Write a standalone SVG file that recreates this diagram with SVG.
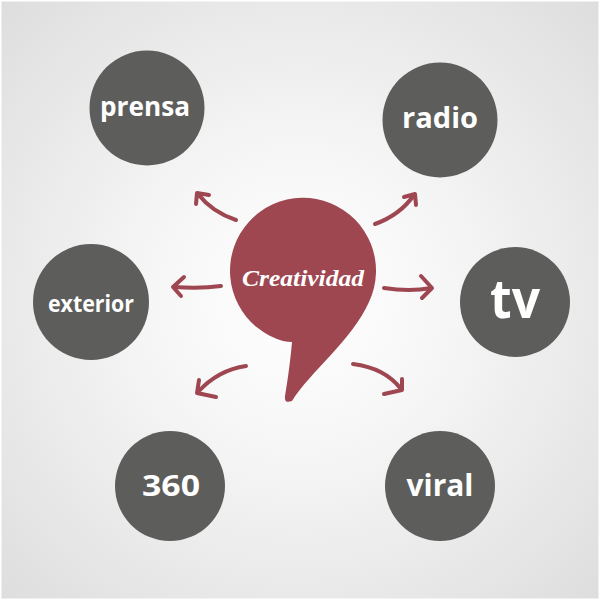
<svg xmlns="http://www.w3.org/2000/svg" width="600" height="600" viewBox="0 0 600 600">
<defs>
<radialGradient id="bg" cx="300" cy="300" r="430" gradientUnits="userSpaceOnUse">
<stop offset="0" stop-color="#ffffff"/>
<stop offset="0.35" stop-color="#f6f6f6"/>
<stop offset="1" stop-color="#dddddd"/>
</radialGradient>
<style>
.node circle{fill:#5d5d5c}
.node text{fill:#ffffff;font-family:"Open Sans",Roboto,sans-serif;font-weight:bold;text-anchor:middle}
.arr{fill:none;stroke:#9e4750;stroke-width:4;stroke-linecap:round;stroke-linejoin:round}
</style>
</defs>
<rect x="0" y="0" width="600" height="600" fill="#ffffff"/>
<rect x="1.5" y="1.5" width="597" height="597" fill="url(#bg)"/>
<g id="connectors">
<path class="arr" d="M236,220 Q212,212 198,194 M209,195 L197,193 L196,204"/>
<path class="arr" d="M375,224 Q400,215 414,195 M404,197 L415,194 L416,205"/>
<path class="arr" d="M221,286 Q200,289 174,287 M184,277 L173,287 L181,296"/>
<path class="arr" d="M384,288 Q410,292 431,288 M421,276 L432,288 L422,298"/>
<path class="arr" d="M246,366 Q218,370 198,392 M199,380 L197,393 L216,397"/>
<path class="arr" d="M353,364 Q385,368 401,389 M402,379 L402,390 L384,394"/>
</g>
<g id="creatividad">
<path d="M292,342 C290,365 287,384 285,396 Q284,404 292,401 C310,372 352,340 369,302 A73 73 0 1 0 283,341 Q288,342 292,342 Z" fill="#9e4750"/>
<text x="303" y="286" fill="#ffffff" font-family="'Liberation Serif',serif" font-style="italic" font-weight="bold" font-size="24" text-anchor="middle" textLength="122" lengthAdjust="spacingAndGlyphs">Creatividad</text>
</g>
<g id="prensa" class="node"><circle cx="147" cy="108" r="57.5"/><text x="145" y="116" font-size="27" textLength="90" lengthAdjust="spacingAndGlyphs">prensa</text></g>
<g id="radio" class="node"><circle cx="440" cy="120" r="57.5"/><text x="440" y="128" font-size="28" textLength="76" lengthAdjust="spacingAndGlyphs">radio</text></g>
<g id="exterior" class="node"><circle cx="91" cy="302" r="58"/><text x="91" y="312" font-size="23" textLength="86" lengthAdjust="spacingAndGlyphs">exterior</text></g>
<g id="tv" class="node"><circle cx="515" cy="302" r="55"/><text x="515" y="318" font-size="53" textLength="50" lengthAdjust="spacingAndGlyphs">tv</text></g>
<g id="n360" class="node"><circle cx="170" cy="486" r="55"/><text x="171" y="496" font-size="29" textLength="58" lengthAdjust="spacingAndGlyphs">360</text></g>
<g id="viral" class="node"><circle cx="440" cy="486" r="55"/><text x="440" y="496" font-size="31" textLength="67" lengthAdjust="spacingAndGlyphs">viral</text></g>
</svg>
